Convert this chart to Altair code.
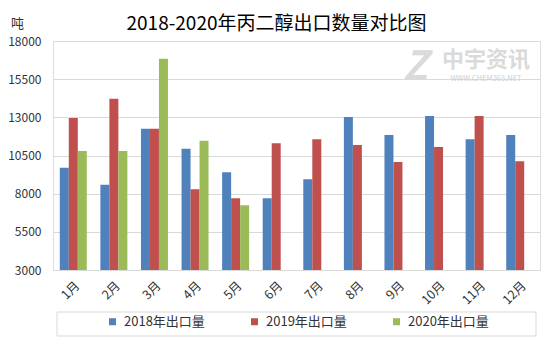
import altair as alt
import pandas as pd

months = ["1月", "2月", "3月", "4月", "5月", "6月", "7月", "8月", "9月", "10月", "11月", "12月"]
series = ["2018年出口量", "2019年出口量", "2020年出口量"]
colors = ["#4F81BD", "#C0504D", "#9BBB59"]
v2018 = [9700, 8580, 12250, 10940, 9410, 7700, 8950, 13020, 11840, 13080, 11570, 11840]
v2019 = [12960, 14220, 12250, 8290, 7700, 11310, 11570, 11180, 10070, 11050, 13080, 10130]
v2020 = [10800, 10800, 16840, 11460, 7240]
yticks = [3000, 5500, 8000, 10500, 13000, 15500, 18000]
title_text = "2018-2020年丙二醇出口数量对比图"
unit_text = "吨"

rows = []
for name, vals in zip(series, [v2018, v2019, v2020]):
    for m, v in zip(months, vals):
        rows.append({"month": m, "series": name, "value": v})
df = pd.DataFrame(rows)

FONT = "Noto Sans CJK SC"

bars = alt.Chart(df).mark_bar().encode(
    x=alt.X("month:N", sort=months,
            scale=alt.Scale(paddingInner=0.335, paddingOuter=0.1675),
            axis=alt.Axis(title=None, labelAngle=-45, labelFontSize=12.5, labelFont=FONT,
                          labelColor="#333333", ticks=False, domainColor="#d9d9d9",
                          labelPadding=9)),
    xOffset=alt.XOffset("series:N", sort=series),
    y=alt.Y("value:Q",
            scale=alt.Scale(domain=[3000, 18000], nice=False, zero=False),
            axis=alt.Axis(values=yticks, title=unit_text, titleAngle=0, titleX=-36, titleY=-18,
                          titleAlign="center", titleBaseline="middle", titleFontSize=13,
                          titleFontWeight="normal", titleFont=FONT, titleColor="#333333",
                          labelFontSize=12, labelFont=FONT, labelColor="#333333",
                          labelPadding=12, ticks=False, domain=False,
                          gridColor="#d9d9d9", format="d")),
    y2=alt.datum(3000),
    color=alt.Color("series:N", sort=series,
                    scale=alt.Scale(domain=series, range=colors),
                    legend=alt.Legend(title=None, orient="none", legendX=53, legendY=274,
                                      direction="horizontal", symbolType="square",
                                      symbolSize=49, symbolStrokeWidth=0, labelFontSize=13,
                                      labelFont=FONT, labelColor="#333333", labelOffset=5,
                                      columnPadding=43)),
)

frame_df = pd.DataFrame({"k": [0]})
legend_box = alt.Chart(frame_df).mark_rect(stroke="#d9d9d9", fillOpacity=0, strokeWidth=1).encode(
    x=alt.value(4), x2=alt.value(483), y=alt.value(271), y2=alt.value(295)
)

wm1 = alt.Chart(frame_df).mark_text(text="中宇资讯", font=FONT, fontSize=22, fontWeight="bold",
                                     color="#dadada").encode(x=alt.value(433), y=alt.value(19))
wm2 = alt.Chart(frame_df).mark_text(text="WWW.CHEM365.NET", font=FONT, fontSize=7.5,
                                     color="#d0d0d0").encode(x=alt.value(433), y=alt.value(38))
wm3 = alt.Chart(frame_df).mark_text(text="Z", font=FONT, fontSize=40, fontWeight="bold",
                                     fontStyle="italic", color="#dadada").encode(x=alt.value(362), y=alt.value(27))

chart = alt.layer(wm3, wm1, wm2, bars, legend_box).properties(
    width=487, height=229,
    title=alt.TitleParams(title_text, fontSize=19, fontWeight="normal", font=FONT,
                          color="#000000", anchor="middle", dx=-20, offset=-17),
    autosize=alt.AutoSizeParams(type="none"),
    padding={"left": 53, "top": 41, "right": 14, "bottom": 81},
).configure_view(stroke=None).configure(background="white")

chart.save("out.html", embed_options={"renderer": "svg", "actions": False})
